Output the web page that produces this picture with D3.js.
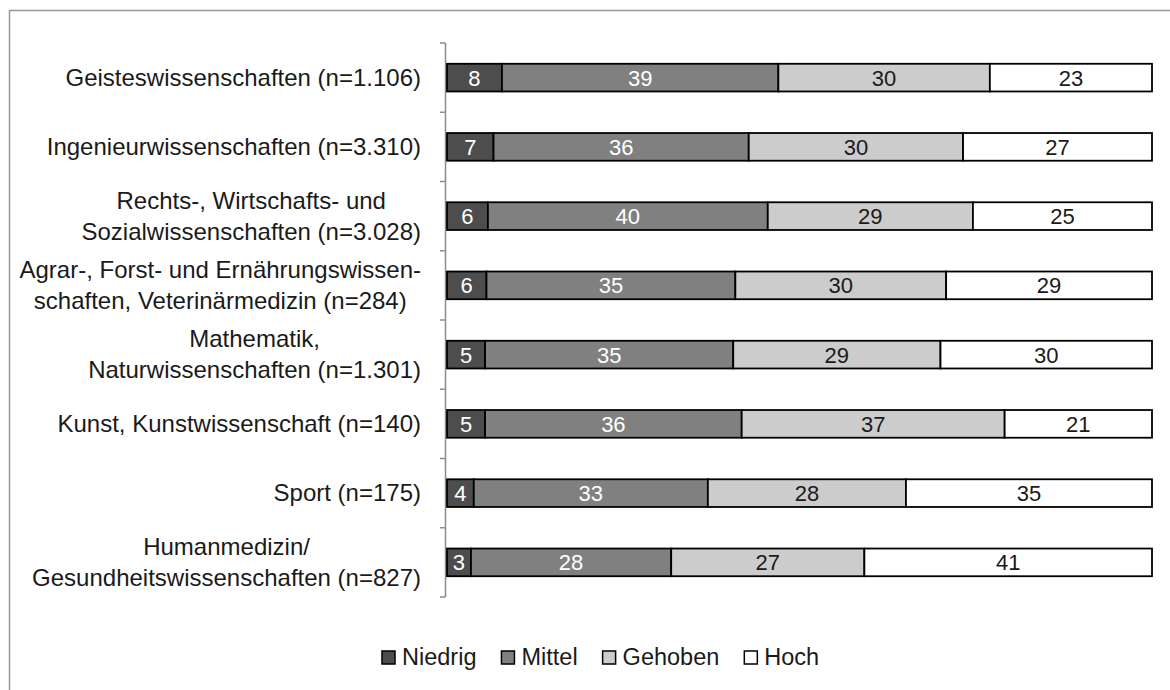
<!DOCTYPE html>
<html><head><meta charset="utf-8">
<script src="https://cdn.jsdelivr.net/npm/d3@7"></script>
<style>
body{margin:0;background:#fff;}
svg text{font-family:"Liberation Sans",Arial,sans-serif;}
</style></head>
<body><svg id="c" width="1170" height="690"></svg>
<script>
const categories = [
  ["Geisteswissenschaften (n=1.106)"],
  ["Ingenieurwissenschaften (n=3.310)"],
  ["Rechts-, Wirtschafts- und","Sozialwissenschaften (n=3.028)"],
  ["Agrar-, Forst- und Ernährungswissen-","schaften, Veterinärmedizin (n=284)"],
  ["Mathematik,","Naturwissenschaften (n=1.301)"],
  ["Kunst, Kunstwissenschaft (n=140)"],
  ["Sport (n=175)"],
  ["Humanmedizin/","Gesundheitswissenschaften (n=827)"]
];
const seriesNames = ["Niedrig","Mittel","Gehoben","Hoch"];
const niedrig = [7.8, 6.6, 5.8, 5.6, 5.4, 5.4, 3.8, 3.4];
const mittel  = [39.2, 36.2, 39.7, 35.3, 35.2, 36.4, 33.2, 28.4];
const gehoben = [30.0, 30.4, 29.1, 29.9, 29.4, 37.3, 28.1, 27.4];
const hoch    = [23.0, 26.8, 25.4, 29.2, 30.0, 20.9, 34.9, 40.8];

const colors = ["#4d4d4d","#808080","#cccccc","#ffffff"];
const textColors = ["#fff","#fff","#1a1a1a","#1a1a1a"];

const svg = d3.select("#c");
svg.append("rect").attr("x",9.5).attr("y",10.5).attr("width",1200).attr("height",700)
  .attr("fill","none").attr("stroke","#999").attr("stroke-width",1.5);

const rows = categories.map((c,i)=>({key:i, label:c, Niedrig:niedrig[i], Mittel:mittel[i], Gehoben:gehoben[i], Hoch:hoch[i]}));
const stack = d3.stack().keys(seriesNames)(rows);

const x = d3.scaleLinear().domain([0,100]).range([447,1152]);
const y = d3.scaleBand().domain(d3.range(categories.length)).range([43,597]).padding(0);
const barH = y.step()*0.4;
const fmt = d3.format(".0f");

// axis
const ax = svg.append("g").attr("stroke","#8c8c8c").attr("stroke-width",1.5);
ax.append("line").attr("x1",445.5).attr("x2",445.5).attr("y1",y.range()[0]).attr("y2",y.range()[1]);
d3.range(categories.length+1).forEach(i=>{
  const yy = y.range()[0] + i*y.step();
  ax.append("line").attr("x1",440).attr("x2",445.5).attr("y1",yy).attr("y2",yy);
});

// bars
stack.forEach((s,si)=>{
  const g = svg.append("g");
  g.selectAll("rect").data(s).join("rect")
    .attr("x",d=>x(d[0])).attr("width",d=>x(d[1])-x(d[0]))
    .attr("y",(d,i)=>y(i)+(y.step()-barH)/2).attr("height",barH)
    .attr("fill",colors[si]).attr("stroke","#000").attr("stroke-width",1.8);
  g.selectAll("text").data(s).join("text")
    .attr("x",d=>(x(d[0])+x(d[1]))/2).attr("y",(d,i)=>y(i)+y.step()/2+8)
    .attr("text-anchor","middle").attr("font-size",22).attr("fill",textColors[si])
    .text(d=>fmt(d[1]-d[0]));
});

// category labels
const labelRight = 421;
categories.forEach((lines,i)=>{
  const cy = y(i)+y.step()/2;
  const lh = 31;
  const t = svg.append("text").attr("font-size",24).attr("fill","#1a1a1a");
  const tsp = lines.map((ln,k)=>t.append("tspan").text(ln).attr("y",cy+8+(k-(lines.length-1)/2)*lh));
  const widths = tsp.map(s=>s.node().getComputedTextLength());
  const maxW = d3.max(widths);
  tsp.forEach((s,k)=>s.attr("x",labelRight-maxW/2).attr("text-anchor","middle"));
});

// legend
const lg = svg.append("g");
let lx = 382;
seriesNames.forEach((n,i)=>{
  lg.append("rect").attr("x",lx).attr("y",651).attr("width",13).attr("height",13)
    .attr("fill",colors[i]).attr("stroke","#000").attr("stroke-width",1.5);
  const t = lg.append("text").attr("x",lx+20).attr("y",665).attr("font-size",23.5).attr("fill","#1a1a1a").text(n);
  lx += 20 + t.node().getComputedTextLength() + 25;
});
</script></body></html>
